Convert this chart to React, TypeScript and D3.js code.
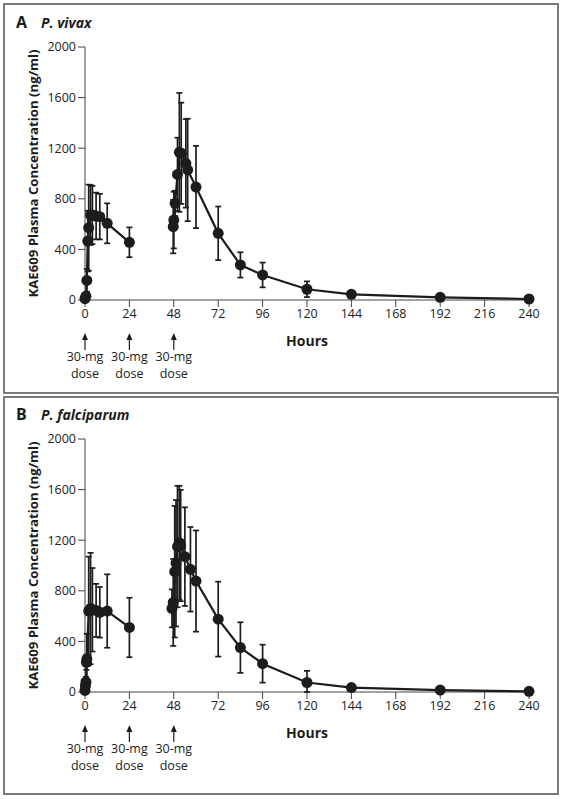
import React from "react";
import * as d3 from "d3";

// ---------- data ----------
const xTicks = [0, 24, 48, 72, 96, 120, 144, 168, 192, 216, 240];
const yTicks = [0, 400, 800, 1200, 1600, 2000];
const doseHours = [0, 24, 48];
const doseLabel = ["30-mg", "dose"];
const yAxisTitle = "KAE609 Plasma Concentration (ng/ml)";
const xAxisTitle = "Hours";

// Panel A: P. vivax — first dose segment
const vivaxHours1 = [0, 0.5, 1, 1.5, 2, 3, 4, 6, 8, 12, 24];
const vivaxMean1 = [10, 30, 155, 466, 572, 672, 672, 664, 659, 606, 456];
const vivaxSD1 = [0, 15, 90, 240, 340, 237, 230, 185, 180, 158, 118];
// Panel A: second/third dose segment
const vivaxHours2 = [47.7, 48, 48.7, 50, 51, 52, 54.5, 55.5, 60, 72, 84, 96, 120, 144, 192, 240];
const vivaxMean2 = [580, 632, 764, 993, 1167, 1160, 1080, 1028, 893, 527, 277, 198, 85, 45, 21, 8];
const vivaxSD2 = [211, 224, 100, 290, 470, 400, 350, 405, 325, 212, 100, 98, 62, 15, 8, 4];

// Panel B: P. falciparum — first dose segment
const falcHours1 = [0, 0.25, 0.5, 0.75, 1, 2, 3, 4, 6, 8, 12, 24];
const falcMean1 = [12, 50, 80, 235, 260, 640, 660, 650, 645, 630, 640, 510];
const falcSD1 = [0, 25, 40, 60, 200, 430, 440, 330, 210, 200, 290, 235];
// Panel B: second/third dose segment
const falcHours2 = [47, 47.7, 48.5, 49.2, 50, 51, 51.7, 54, 57, 60, 72, 84, 96, 120, 144, 192, 240];
const falcMean2 = [661, 708, 951, 1018, 1150, 1180, 1158, 1070, 970, 877, 576, 351, 224, 75, 35, 15, 5];
const falcSD2 = [150, 344, 520, 500, 480, 450, 440, 390, 334, 400, 296, 200, 150, 92, 20, 8, 3];

const panels = [
  {
    letter: "A",
    name: "P. vivax",
    segments: [
      { hours: vivaxHours1, mean: vivaxMean1, sd: vivaxSD1 },
      { hours: vivaxHours2, mean: vivaxMean2, sd: vivaxSD2 },
    ],
  },
  {
    letter: "B",
    name: "P. falciparum",
    segments: [
      { hours: falcHours1, mean: falcMean1, sd: falcSD1 },
      { hours: falcHours2, mean: falcMean2, sd: falcSD2 },
    ],
  },
];

// ---------- layout ----------
const W = 564;
const H = 799;
const FONT = "'Open Sans', 'Liberation Sans', sans-serif";
const INK = "#1c1c1c";
const FRAMES = [
  { x: 4, y: 4, w: 554, h: 389 },
  { x: 4, y: 397, w: 554, h: 397 },
];
const PANEL_OFFSET = [0, 392];

const x = d3.scaleLinear().domain([0, 240]).range([85, 529]);

function Panel({ panel, idx }: { panel: any; idx: number }) {
  const off = PANEL_OFFSET[idx];
  const y = d3.scaleLinear().domain([0, 2000]).range([300 + off, 47 + off]);
  const line = d3
    .line<[number, number]>()
    .x((d) => x(d[0]))
    .y((d) => y(d[1]));
  const f = FRAMES[idx];
  const axisY = y(0);
  return (
    <g>
      <rect x={f.x} y={f.y} width={f.w} height={f.h} fill="white" stroke="#7a7a7a" strokeWidth={2} />
      <text x={16} y={28 + off} fontFamily={FONT} fontWeight={700} fontSize={16} fill={INK}>
        {panel.letter}
      </text>
      <text x={41} y={28 + off} fontFamily={FONT} fontWeight={700} fontStyle="italic" fontSize={14} fill={INK}>
        {panel.name}
      </text>

      {/* y axis */}
      <line x1={x(0)} x2={x(0)} y1={y(2000)} y2={axisY} stroke="#444" strokeWidth={1} />
      {yTicks.map((t) => (
        <g key={"y" + t}>
          <line x1={x(0) - 7} x2={x(0)} y1={y(t)} y2={y(t)} stroke="#444" strokeWidth={1} />
          <text
            x={x(0) - 9}
            y={y(t)}
            dy="0.35em"
            textAnchor="end"
            fontFamily={FONT}
            fontSize={12.5}
            fill="#222"
          >
            {t}
          </text>
        </g>
      ))}
      <text
        transform={`translate(33,${(y(0) + y(2000)) / 2}) rotate(-90)`}
        textAnchor="middle"
        dy="0.35em"
        fontFamily={FONT}
        fontWeight={700}
        fontSize={13.2}
        fill={INK}
      >
        {yAxisTitle}
      </text>

      {/* x axis */}
      <line x1={x(0)} x2={x(240)} y1={axisY} y2={axisY} stroke="#444" strokeWidth={1} />
      {xTicks.map((t) => (
        <g key={"x" + t}>
          <line x1={x(t)} x2={x(t)} y1={axisY} y2={axisY + 7} stroke="#444" strokeWidth={1} />
          <text x={x(t)} y={axisY + 18} textAnchor="middle" fontFamily={FONT} fontSize={12.5} fill="#222">
            {t}
          </text>
        </g>
      ))}
      <text
        x={(x(0) + x(240)) / 2}
        y={axisY + 46}
        textAnchor="middle"
        fontFamily={FONT}
        fontWeight={700}
        fontSize={14}
        fill={INK}
      >
        {xAxisTitle}
      </text>

      {/* dose arrows */}
      {doseHours.map((h) => (
        <g key={"d" + h}>
          <line x1={x(h)} x2={x(h)} y1={axisY + 38} y2={axisY + 50} stroke={INK} strokeWidth={1.2} />
          <path
            d={`M${x(h)},${axisY + 33} L${x(h) - 3},${axisY + 40} L${x(h) + 3},${axisY + 40} Z`}
            fill={INK}
          />
          {doseLabel.map((s, i) => (
            <text
              key={s}
              x={x(h)}
              y={axisY + 61 + i * 17}
              textAnchor="middle"
              fontFamily={FONT}
              fontSize={12.5}
              fill="#222"
            >
              {s}
            </text>
          ))}
        </g>
      ))}

      {/* data */}
      {panel.segments.map((s: any, si: number) => {
        const pts: [number, number][] = s.hours.map((h: number, i: number) => [h, s.mean[i]]);
        return (
          <g key={"s" + si}>
            {s.hours.map((h: number, i: number) => {
              const sd = s.sd[i];
              if (sd <= 0) return null;
              const top = y(s.mean[i] + sd);
              const bot = y(Math.max(0, s.mean[i] - sd));
              const cx = x(h);
              return (
                <g key={"e" + i} stroke={INK} strokeWidth={1.7}>
                  <line x1={cx} x2={cx} y1={top} y2={bot} />
                  <line x1={cx - 3} x2={cx + 3} y1={top} y2={top} />
                  <line x1={cx - 3} x2={cx + 3} y1={bot} y2={bot} />
                </g>
              );
            })}
            <path d={line(pts) || ""} fill="none" stroke={INK} strokeWidth={2.2} />
            {pts.map((p, i) => (
              <circle key={"c" + i} cx={x(p[0])} cy={y(p[1])} r={5.5} fill={INK} />
            ))}
          </g>
        );
      })}
    </g>
  );
}

export default function App() {
  return (
    <svg
      width={W}
      height={H}
      viewBox={`0 0 ${W} ${H}`}
      style={{ position: "absolute", left: 0, top: 0, background: "white" }}
    >
      <rect x={0} y={0} width={W} height={H} fill="white" />
      {panels.map((p, i) => (
        <Panel key={p.letter} panel={p} idx={i} />
      ))}
    </svg>
  );
}
